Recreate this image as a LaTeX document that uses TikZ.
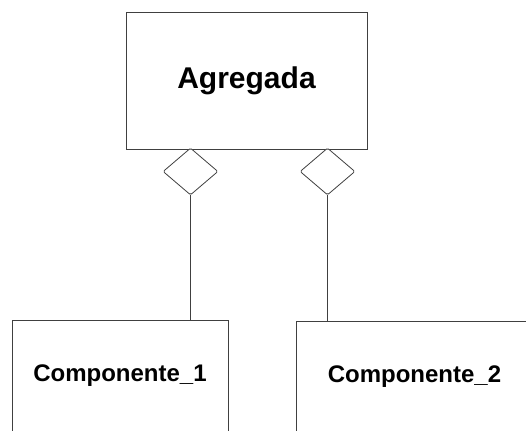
\documentclass[tikz,border=0pt]{standalone}
\usepackage{fontspec}
\setmainfont{Liberation Sans}
\usepackage{tikz}
\usetikzlibrary{shapes.geometric}

\begin{document}
\begin{tikzpicture}[x=1pt, y=-1pt,
    box/.style={draw=black!75, line width=0.8pt, rectangle, inner sep=0pt, font=\bfseries},
    agg/.style={draw=black!75, line width=0.8pt, diamond, inner sep=0pt, minimum width=55pt, minimum height=47pt, rounded corners=1.5pt, fill=white}]
    \useasboundingbox (0,0) rectangle (526,430);

    % The whole (Agregada)
    \node[box, minimum width=241pt, minimum height=137pt, font=\bfseries\fontsize{30}{32}\selectfont] (agregada) at (246.5,80.5) {Agregada};

    % Aggregation diamonds under the whole
    \node[agg] (dl) at (190.5,171.5) {};
    \node[agg] (dr) at (327.5,171.5) {};

    % The parts
    \node[box, minimum width=216pt, minimum height=112pt, font=\bfseries\fontsize{24}{26}\selectfont] (comp1) at (120,376) {Componente\_1};
    \node[box, minimum width=237pt, minimum height=112pt, font=\bfseries\fontsize{24}{26}\selectfont] (comp2) at (414.5,377) {Componente\_2};

    % Connectors from the diamonds down to the parts
    \draw[black!75, line width=0.8pt] (dl.south) -- (dl.south |- comp1.north);
    \draw[black!75, line width=0.8pt] (dr.south) -- (dr.south |- comp2.north);

\end{tikzpicture}
\end{document}
